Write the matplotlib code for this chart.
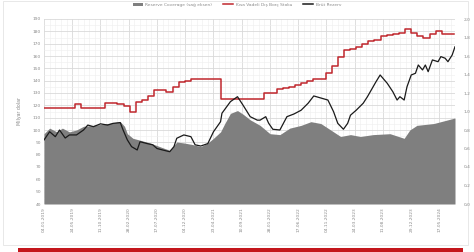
import matplotlib
matplotlib.use("Agg")
import matplotlib.pyplot as plt
import matplotlib.patches as mp
from matplotlib.lines import Line2D
from matplotlib.ticker import MultipleLocator, FixedLocator
import numpy as np

# -- data (x in weeks from 04.01.2019) --
reserve_weeks = [0, 4, 8, 11, 15, 18, 23, 28, 31, 35, 40, 45, 49, 54, 56, 59, 62, 66, 68, 73,
                 77, 80, 84, 89, 92, 94, 99, 104, 107, 111, 116, 120, 125, 126, 132, 137, 141,
                 146, 151, 153, 157, 159, 162, 167, 172, 177, 182, 187, 191, 201, 205, 208, 212,
                 215, 217, 221, 226, 229, 235, 238, 243, 247, 250, 252, 255, 257, 260, 263, 265,
                 268, 270, 272, 275, 279, 281, 284, 286, 289, 291]
reserve_bn = [91.9, 98.6, 94.6, 100, 93.5, 96, 96, 100, 104, 102.7, 105, 104, 105.4, 106, 100,
              92, 86.5, 83.8, 90.5, 89, 88, 85, 83.8, 82.4, 86.5, 93.3, 96, 94.6, 88, 87, 89,
              98.6, 106.7, 113.6, 123, 127, 120, 110.8, 108, 108, 110.8, 105.6, 100.6, 100,
              110.8, 113, 116, 121.7, 127.6, 124.3, 114.9, 105.4, 100.6, 105.4, 112, 116, 121.7,
              127, 139, 144.6, 137.9, 131, 124.3, 127, 124.3, 135, 144.6, 146, 152.7, 148.7,
              152.7, 147.3, 156.8, 155.4, 159.5, 158.2, 155.4, 160.8, 167.5]

coverage_weeks = [0, 4, 9, 13, 18, 23, 28, 35, 45, 54, 57, 59, 63, 68, 75, 82, 89, 94, 99, 106,
                  111, 116, 120, 125, 128, 132, 137, 141, 146, 153, 160, 167, 174, 182, 189,
                  196, 203, 210, 217, 224, 233, 245, 255, 259, 264, 276, 286, 291]
coverage_ratio = [0.76, 0.82, 0.78, 0.82, 0.78, 0.80, 0.84, 0.85, 0.87, 0.89, 0.84, 0.76, 0.71,
                  0.69, 0.66, 0.62, 0.58, 0.67, 0.66, 0.64, 0.62, 0.66, 0.71, 0.78, 0.87, 0.98,
                  1.01, 0.97, 0.91, 0.85, 0.76, 0.75, 0.82, 0.85, 0.89, 0.87, 0.80, 0.73, 0.75,
                  0.73, 0.75, 0.76, 0.71, 0.80, 0.85, 0.87, 0.91, 0.93]

# short-term external debt, monthly from Jan 2019
short_debt_bn = [117.5, 117.5, 118, 117.5, 118, 121, 117.5, 117.5, 118, 118, 122, 122, 121,
                 119.5, 115, 123, 124.5, 127.5, 132.5, 132.5, 131, 135, 139, 139.5, 141, 141,
                 141, 141, 141, 125, 125, 125, 125, 125, 125, 125, 130.3, 130.3, 133, 134, 135,
                 136.5, 138, 140, 141, 141.7, 146, 152, 159, 165, 165.5, 167, 169.5, 172.5,
                 173, 176, 177, 177.5, 179, 181.5, 179, 176, 174.5, 177.5, 180, 178, 178, 178]

date_labels = ["04.01.2019", "24.05.2019", "11.10.2019", "28.02.2020", "17.07.2020",
               "04.12.2020", "23.04.2021", "10.09.2021", "28.01.2022", "17.06.2022",
               "04.11.2022", "24.03.2023", "11.08.2023", "29.12.2023", "17.05.2024"]

legend_labels = ["Reserve Coverage (sağ eksen)", "Kısa Vadeli Dış Borç Stoku", "Brüt Rezerv"]

GRAY = "#7f7f7f"
RED = "#c0272d"
TXT = "#8a8a8a"

fig = plt.figure(figsize=(4.74, 2.52), dpi=100)

# card frame + red bar at the bottom
fig.patches.append(mp.Rectangle((3 / 474, 7 / 252), 465 / 474, 244 / 252, transform=fig.transFigure,
                                facecolor="white", edgecolor="#e4e4e4", linewidth=0.6, zorder=-10))
fig.patches.append(mp.Rectangle((18 / 474, 0), 445 / 474, 4 / 252, transform=fig.transFigure,
                                facecolor="#c4161c", edgecolor="none", zorder=-10))

ax1 = fig.add_axes([44 / 474, 48 / 252, 411 / 474, 185 / 252])
ax1.patch.set_visible(False)
ax2 = ax1.twinx()
ax3 = ax1.twinx()

x_end = 291
ax1.set_xlim(0, x_end)
ax1.set_ylim(40, 190)
ax1.yaxis.set_major_locator(MultipleLocator(10))
ax1.yaxis.set_minor_locator(MultipleLocator(5))
ax1.xaxis.set_major_locator(FixedLocator(np.arange(len(date_labels)) * 20))
ax1.xaxis.set_minor_locator(MultipleLocator(4))
ax1.set_xticklabels(date_labels, rotation=90)
ax1.grid(which="major", color="#d9d9d9", linewidth=0.6)
ax1.grid(which="minor", color="#eeeeee", linewidth=0.4)
ax1.set_axisbelow(True)
ax1.tick_params(which="both", length=0, labelsize=3.2, labelcolor=TXT, pad=2)
ax1.set_ylabel("Milyar dolar", fontsize=3.4, color=TXT, labelpad=8)

# coverage area on the right axis
ax2.fill_between(coverage_weeks, 0, coverage_ratio, color=GRAY, linewidth=0)
ax2.set_ylim(0, 2.0)
ax2.set_yticks(np.arange(0, 2.01, 0.2))
ax2.set_yticklabels([f"{v:.1f}".replace(".", ",") for v in np.arange(0, 2.01, 0.2)])
ax2.tick_params(length=0, labelsize=3.2, labelcolor=TXT, pad=6)

# lines on top, left scale
ax3.set_ylim(40, 190)
ax3.set_yticks([])
months = np.arange(len(short_debt_bn)) * 52 / 12
ax3.plot(months, short_debt_bn, color=RED, linewidth=1.1, drawstyle="steps-post")
ax3.plot(reserve_weeks, reserve_bn, color="#1a1a1a", linewidth=0.9)
ax3.set_xlim(0, x_end)

for ax in (ax1, ax2, ax3):
    for s in ax.spines.values():
        s.set_visible(False)

handles = [mp.Patch(facecolor=GRAY), Line2D([], [], color=RED, linewidth=1.1),
           Line2D([], [], color="#1a1a1a", linewidth=1.1)]
fig.legend(handles, legend_labels, loc="upper center", bbox_to_anchor=(0.5, 1.005), ncol=3,
           frameon=False, fontsize=3.2, labelcolor=TXT, handlelength=2.2, columnspacing=2.5,
           handletextpad=0.6)

fig.savefig("out.png", dpi=100)
